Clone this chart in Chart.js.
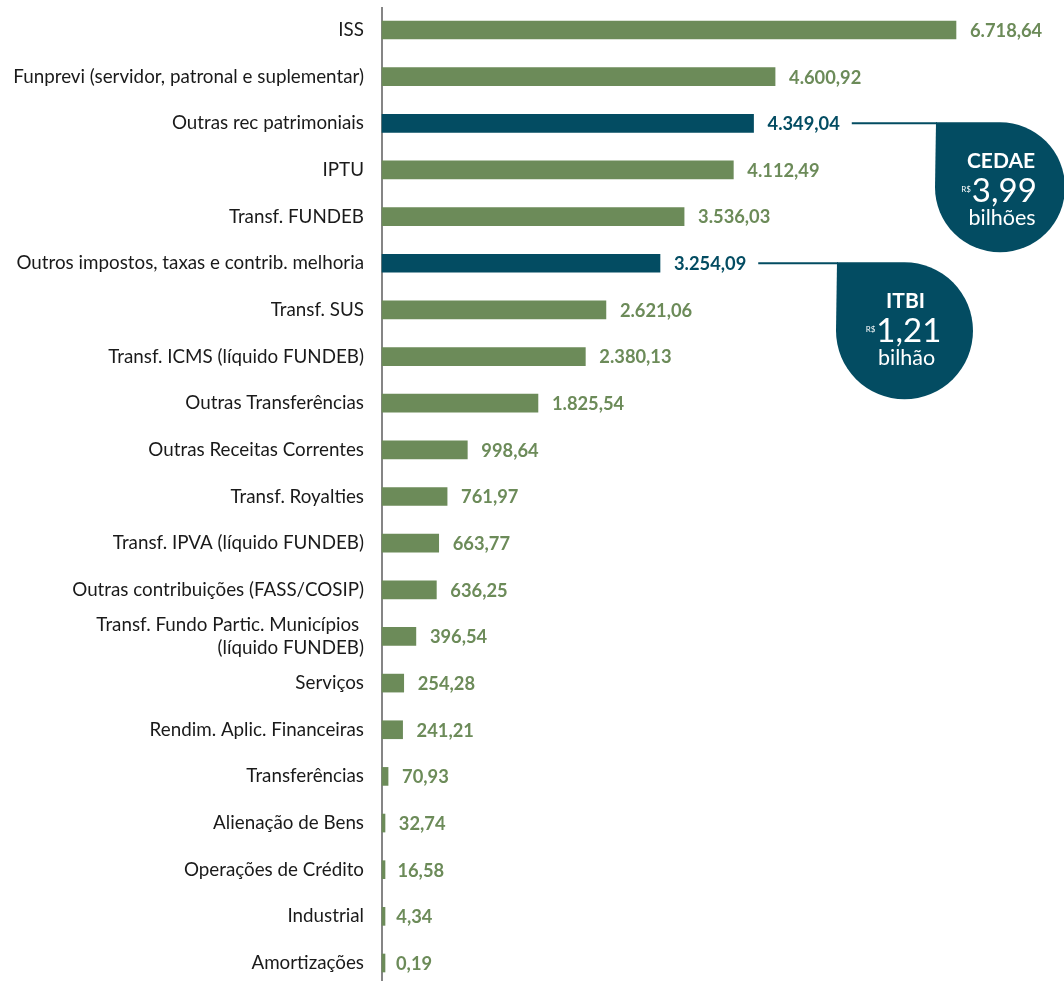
<!DOCTYPE html>
<html>
<head>
<meta charset="utf-8">
<script src="https://cdn.jsdelivr.net/npm/chart.js@4"></script>
<style>
html,body{margin:0;padding:0;background:#fff;}
#wrap{width:1064px;height:981px;position:relative;}
</style>
</head>
<body>
<div id="wrap"><canvas id="c" width="1064" height="981"></canvas></div>
<script>
const categories = [
  'ISS',
  'Funprevi (servidor, patronal e suplementar)',
  'Outras rec patrimoniais',
  'IPTU',
  'Transf. FUNDEB',
  'Outros impostos, taxas e contrib. melhoria',
  'Transf. SUS',
  'Transf. ICMS (líquido FUNDEB)',
  'Outras Transferências',
  'Outras Receitas Correntes',
  'Transf. Royalties',
  'Transf. IPVA (líquido FUNDEB)',
  'Outras contribuições (FASS/COSIP)',
  ['Transf. Fundo Partic. Municípios ', '(líquido FUNDEB)'],
  'Serviços',
  'Rendim. Aplic. Financeiras',
  'Transferências',
  'Alienação de Bens',
  'Operações de Crédito',
  'Industrial',
  'Amortizações'
];
const values = [6718.64, 4600.92, 4349.04, 4112.49, 3536.03, 3254.09, 2621.06, 2380.13, 1825.54, 998.64, 761.97, 663.77, 636.25, 396.54, 254.28, 241.21, 70.93, 32.74, 16.58, 4.34, 0.19];
const highlightedIndexes = [2, 5];
const calloutTitles = ['CEDAE', 'ITBI'];
const calloutAmounts = ['3,99', '1,21'];
const calloutUnits = ['bilhões', 'bilhão'];
const calloutCurrency = 'R$';

const GREEN = '#6c8b59';
const BLUE = '#034c62';
const FONT = 'Lato, "Open Sans", sans-serif';

function fmt(v){
  const parts = v.toFixed(2).split('.');
  const intPart = parts[0].replace(/\B(?=(\d{3})+(?!\d))/g, '.');
  return intPart + ',' + parts[1];
}
const barColors = values.map((v,i)=> highlightedIndexes.includes(i) ? BLUE : GREEN);

const annotPlugin = {
  id: 'annot',
  beforeDatasetsDraw(chart){
    const ctx = chart.ctx;
    const x0 = chart.scales.x.getPixelForValue(0);
    ctx.save();
    ctx.strokeStyle = '#858585';
    ctx.lineWidth = 2;
    ctx.beginPath();
    ctx.moveTo(x0, 7);
    ctx.lineTo(x0, chart.height);
    ctx.stroke();
    ctx.restore();
  },
  afterDatasetsDraw(chart){
    const ctx = chart.ctx;
    const xs = chart.scales.x, ys = chart.scales.y;
    ctx.save();
    ctx.font = 'bold 18.3px ' + FONT;
    ctx.textBaseline = 'middle';
    ctx.textAlign = 'left';
    const labelEnds = {};
    values.forEach((v,i)=>{
      const x = xs.getPixelForValue(v) + 14;
      const y = ys.getPixelForValue(i) + 1;
      ctx.fillStyle = barColors[i];
      const t = fmt(v);
      ctx.fillText(t, x, y);
      labelEnds[i] = x + ctx.measureText(t).width;
    });
    const geom = [{left: 936, size: 128}, {left: 837, size: 135}];
    highlightedIndexes.forEach((idx,k)=>{
      const yc = ys.getPixelForValue(idx);
      const g = geom[k];
      const L = g.left, T = yc, S = g.size, r = S/2;
      ctx.strokeStyle = BLUE;
      ctx.lineWidth = 2;
      ctx.beginPath();
      ctx.moveTo(labelEnds[idx] + 12, T);
      ctx.lineTo(L + 1, T);
      ctx.stroke();
      ctx.fillStyle = BLUE;
      ctx.beginPath();
      ctx.moveTo(L, T - 1);
      ctx.lineTo(L + r, T - 1);
      ctx.arc(L + r, T + r, r + 1, -Math.PI/2, Math.PI, false);
      ctx.closePath();
      ctx.fill();
      const cx = L + r;
      ctx.fillStyle = '#ffffff';
      ctx.textAlign = 'center';
      ctx.textBaseline = 'middle';
      ctx.font = 'bold 21px ' + FONT;
      ctx.fillText(calloutTitles[k], cx + 1, T + 38);
      ctx.font = '400 33px ' + FONT;
      const amt = calloutAmounts[k];
      const aw = ctx.measureText(amt).width;
      ctx.font = '8px ' + FONT;
      const cw = ctx.measureText(calloutCurrency).width + 1;
      const startX = cx - (aw + cw)/2 - 1;
      ctx.textAlign = 'left';
      ctx.fillText(calloutCurrency, startX, T + 66);
      ctx.font = '400 33px ' + FONT;
      ctx.fillText(amt, startX + cw, T + 68);
      ctx.textAlign = 'center';
      ctx.font = '400 21.5px ' + FONT;
      ctx.fillText(calloutUnits[k], cx + 2, T + 95);
    });
    ctx.restore();
  }
};

new Chart(document.getElementById('c'), {
  type: 'bar',
  data: {
    labels: categories,
    datasets: [{
      data: values,
      backgroundColor: barColors,
      barThickness: 18,
      minBarLength: 3,
      borderWidth: 0,
      clip: false
    }]
  },
  options: {
    indexAxis: 'y',
    responsive: false,
    animation: false,
    events: [],
    layout: { padding: { top: 30, bottom: 18, left: 0, right: 0 } },
    plugins: { legend: { display: false }, tooltip: { enabled: false } },
    scales: {
      x: {
        display: false,
        min: 0,
        max: 7983
      },
      y: {
        offset: false,
        border: { display: false },
        grid: { display: false, drawTicks: false },
        ticks: {
          autoSkip: false,
          padding: 18,
          color: '#1a1a1a',
          font: { family: FONT, size: 18.8 }
        },
        afterFit(scale){
          scale.width = 382;
          scale.paddingTop = 0;
          scale.paddingBottom = 0;
        }
      }
    }
  },
  plugins: [annotPlugin]
});
</script>
</body>
</html>
